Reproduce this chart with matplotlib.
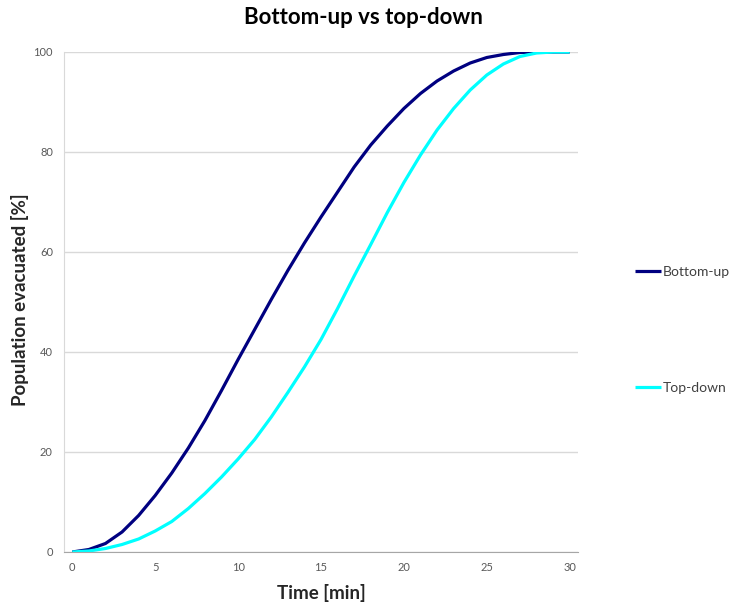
import matplotlib
matplotlib.use("Agg")
import matplotlib.pyplot as plt

# Evacuation progress per minute
time_min = list(range(0, 31))
bottom_up = [0, 0.5, 1.7, 4.0, 7.3, 11.3, 15.8, 20.8, 26.3, 32.3,
             38.5, 44.5, 50.5, 56.3, 61.8, 67.0, 72.0, 77.0, 81.4, 85.2,
             88.7, 91.7, 94.2, 96.2, 97.8, 98.9, 99.5, 99.9, 100, 100, 100]
top_down = [0, 0.2, 0.7, 1.5, 2.6, 4.2, 6.1, 8.7, 11.7, 15.0,
            18.6, 22.5, 27.0, 31.9, 37.0, 42.5, 48.7, 55.2, 61.5, 67.9,
            73.9, 79.4, 84.4, 88.7, 92.4, 95.4, 97.6, 99.1, 99.8, 100, 100]
x_ticks = [0, 5, 10, 15, 20, 25, 30]
y_ticks = [0, 20, 40, 60, 80, 100]

plt.rcParams['font.family'] = ['Lato', 'DejaVu Sans']

W, H = 729, 605
fig = plt.figure(figsize=(W / 100, H / 100), dpi=100)
ax = fig.add_axes([64 / W, (H - 552) / H, (578 - 64) / W, (552 - 52) / H])

ax.plot(time_min, bottom_up, color='#000080', lw=2.3, label='Bottom-up',
        solid_capstyle='butt', solid_joinstyle='round')
ax.plot(time_min, top_down, color='#00FFFF', lw=2.3, label='Top-down',
        solid_capstyle='butt', solid_joinstyle='round')

# category-style axis: half a step of padding on each side
ax.set_xlim(-0.5, 30.5)
ax.set_ylim(0, 100)
ax.set_xticks(x_ticks)
ax.set_yticks(y_ticks)
ax.tick_params(length=0, labelsize=8, labelcolor='#595959')
ax.tick_params(axis='x', pad=7.5)
ax.tick_params(axis='y', pad=8)
ax.grid(axis='y', color='#d9d9d9', lw=1)
ax.set_axisbelow(True)
for side in ('top', 'right'):
    ax.spines[side].set_visible(False)
ax.spines['left'].set_color('#d9d9d9')
ax.spines['bottom'].set_color('#a6a6a6')

ax.set_xlabel('Time [min]', fontsize=13.5, fontweight='bold', color='#262626', va='center')
ax.xaxis.set_label_coords(0.5, (552 - 593) / 500)
ax.set_ylabel('Population evacuated [%]', fontsize=13.5, fontweight='bold',
              color='#262626', va='center')
ax.yaxis.set_label_coords((20 - 64) / 514, (552 - 300) / 500)

fig.text(363 / W, 1 - 18 / H, 'Bottom-up vs top-down',
         ha='center', va='center', fontsize=16, fontweight='bold', color='black')

leg = fig.legend(loc='upper left', bbox_to_anchor=(629 / W, 1 - 260 / H),
                 frameon=False, fontsize=10, handlelength=1.9, handletextpad=0.1,
                 labelspacing=7.5, borderaxespad=0)
for t in leg.get_texts():
    t.set_color('#404040')

fig.savefig('out.png', dpi=100)
